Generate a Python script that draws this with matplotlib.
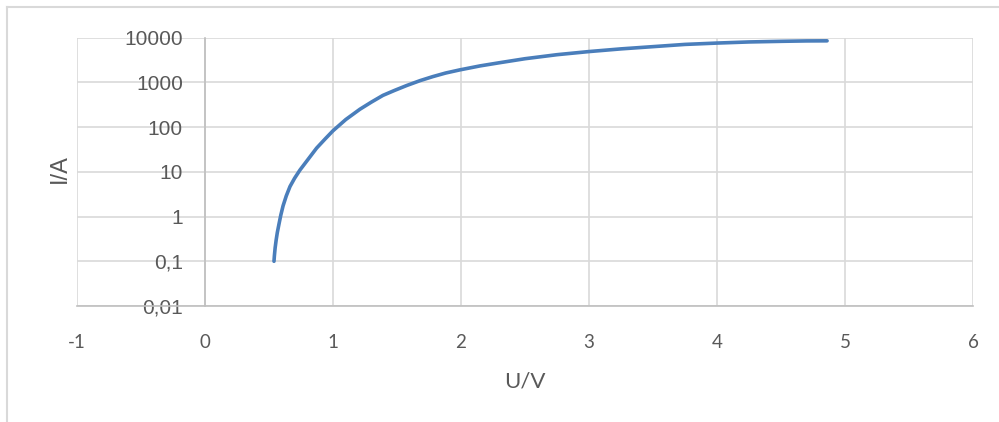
import matplotlib
matplotlib.use("Agg")
import matplotlib.pyplot as plt
from matplotlib.lines import Line2D
from matplotlib.ticker import FixedLocator

# Data (U in V, I in A)
voltage = [0.539, 0.542, 0.548, 0.556, 0.565, 0.578, 0.592, 0.610, 0.635, 0.664,
           0.700, 0.742, 0.800, 0.872, 0.940, 1.00, 1.10, 1.21, 1.30, 1.39,
           1.48, 1.575, 1.68, 1.78, 1.88, 1.99, 2.15, 2.30, 2.50, 2.75,
           3.00, 3.25, 3.50, 3.75, 4.00, 4.25, 4.52, 4.70, 4.86]
current = [0.1, 0.132, 0.2, 0.30, 0.44, 0.68, 1.07, 1.74, 2.9, 4.7,
           7.2, 11, 18.2, 34, 55, 83, 148, 251, 363, 513,
           661, 851, 1096, 1349, 1622, 1905, 2344, 2754, 3388, 4169,
           4898, 5623, 6310, 7079, 7586, 8035, 8318, 8472, 8511]

x_ticks = [-1, 0, 1, 2, 3, 4, 5, 6]
y_ticks = [0.01, 0.1, 1, 10, 100, 1000, 10000]
y_tick_labels = ["0,01", "0,1", "1", "10", "100", "1000", "10000"]
x_label = "U/V"
y_label = "I/A"

W, H = 999, 422
fig = plt.figure(figsize=(W / 100, H / 100), dpi=100)
fig.patch.set_facecolor("white")

# Chart frame (only top and left edges visible)
frame_kw = dict(transform=fig.transFigure, color="#d9d9d9", linewidth=1.5)
fig.add_artist(Line2D([7 / W, 1.0], [1 - 7 / H, 1 - 7 / H], **frame_kw))
fig.add_artist(Line2D([7 / W, 7 / W], [1 - 7 / H, 0.0], **frame_kw))

left, right, top, bottom = 77, 973, 37.7, 306
ax = fig.add_axes([left / W, 1 - bottom / H, (right - left) / W, (bottom - top) / H])

ax.plot(voltage, current, color="#4a7ebb", linewidth=2.6, solid_capstyle="round",
        solid_joinstyle="round", zorder=3)

ax.set_yscale("log")
ax.set_xlim(-1, 6)
ax.set_ylim(0.01, 10000)
ax.xaxis.set_major_locator(FixedLocator(x_ticks))
ax.yaxis.set_major_locator(FixedLocator(y_ticks))
ax.yaxis.set_minor_locator(FixedLocator([]))
ax.set_yticklabels(y_tick_labels)
ax.set_xticklabels([str(v) for v in x_ticks])

ax.grid(True, which="major", color="#d9d9d9", linewidth=1.2, zorder=0)
ax.set_axisbelow(True)

for s in ["top", "right"]:
    ax.spines[s].set_visible(False)
ax.spines["left"].set_position(("data", 0))
ax.spines["left"].set_color("#bfbfbf")
ax.spines["left"].set_linewidth(1.2)
ax.spines["bottom"].set_color("#bfbfbf")
ax.spines["bottom"].set_linewidth(1.2)

ax.tick_params(axis="y", length=0, pad=16, labelsize=15, labelcolor="#595959")
ax.tick_params(axis="x", length=0, pad=20, labelsize=13.5, labelcolor="#595959")
for lab in ax.get_yticklabels():
    lab.set_fontfamily("Liberation Sans")
for lab in ax.get_xticklabels():
    lab.set_fontfamily(["Lato", "DejaVu Sans"])

fig.text(525 / W, 1 - 381 / H, x_label, ha="center", va="center",
         fontsize=16, color="#595959", family=["Lato", "DejaVu Sans"])
fig.text(60 / W, 1 - 169 / H, y_label, ha="center", va="center", rotation=90,
         fontsize=17, color="#595959", family=["Liberation Sans", "DejaVu Sans"])

fig.savefig("out.png", dpi=100, facecolor="white")
